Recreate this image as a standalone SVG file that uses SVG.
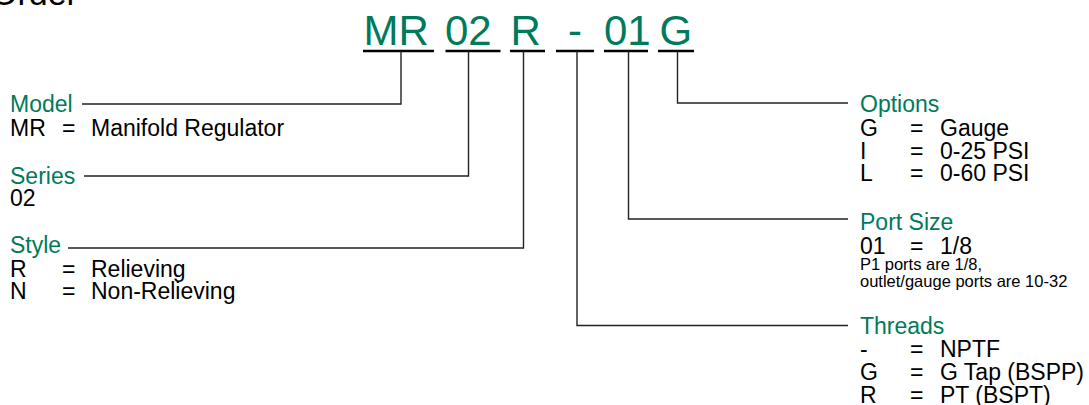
<svg xmlns="http://www.w3.org/2000/svg" width="1089" height="405" viewBox="0 0 1089 405">
<style>
text{font-family:"Liberation Sans",Arial,Helvetica,sans-serif;}
.code{font-size:42px;fill:#007a5a;}
.hd{font-size:23px;fill:#007a5a;}
.tx{font-size:23px;fill:#000;}
.sm{font-size:16.5px;fill:#000;}
.ul{stroke:#000;stroke-width:2.5;fill:none;}
.ln{stroke:#222;stroke-width:1.4;fill:none;}
</style>
<rect width="1089" height="405" fill="#fff"/>
<text x="-9" y="4.5" style="font-size:34px;fill:#000">Order</text>
<g id="code">
<text class="code" x="363.5" y="45">MR</text>
<text class="code" x="445" y="45">02</text>
<text class="code" x="510.5" y="45">R</text>
<text class="code" x="568" y="45">-</text>
<text class="code" x="604" y="45">01</text>
<text class="code" x="659.5" y="45">G</text>
<path class="ul" d="M363 51H434M445.5 51H500.5M510 51H545M556 51H594M604 51H648M658 51H694"/>
</g>
<g id="connectors">
<path class="ln" d="M401 51V104H82"/>
<path class="ln" d="M468.5 51V176H84"/>
<path class="ln" d="M523.5 51V248H68"/>
<path class="ln" d="M577 51V325.5H848"/>
<path class="ln" d="M628.5 51V219H848"/>
<path class="ln" d="M677.5 51V103H848"/>
</g>
<g id="model">
<text class="hd" x="10" y="112">Model</text>
<text class="tx" x="10" y="136">MR</text><text class="tx" x="62" y="136">=</text><text class="tx" x="91" y="136">Manifold Regulator</text>
</g>
<g id="series">
<text class="hd" x="10" y="183.5">Series</text>
<text class="tx" x="10" y="205.5">02</text>
</g>
<g id="style">
<text class="hd" x="10" y="253">Style</text>
<text class="tx" x="10" y="276.5">R</text><text class="tx" x="62" y="276.5">=</text><text class="tx" x="91" y="276.5">Relieving</text>
<text class="tx" x="10" y="299">N</text><text class="tx" x="62" y="299">=</text><text class="tx" x="91" y="299">Non-Relieving</text>
</g>
<g id="options">
<text class="hd" x="860" y="112">Options</text>
<text class="tx" x="860" y="136">G</text><text class="tx" x="910" y="136">=</text><text class="tx" x="940" y="136">Gauge</text>
<text class="tx" x="860" y="158.5">I</text><text class="tx" x="910" y="158.5">=</text><text class="tx" x="940" y="158.5">0-25 PSI</text>
<text class="tx" x="860" y="181">L</text><text class="tx" x="910" y="181">=</text><text class="tx" x="940" y="181">0-60 PSI</text>
</g>
<g id="portsize">
<text class="hd" x="860" y="229.5">Port Size</text>
<text class="tx" x="860" y="253.5">01</text><text class="tx" x="910" y="253.5">=</text><text class="tx" x="940" y="253.5">1/8</text>
<text class="sm" x="860" y="270">P1 ports are 1/8,</text>
<text class="sm" x="860" y="286.7">outlet/gauge ports are 10-32</text>
</g>
<g id="threads">
<text class="hd" x="860" y="333.5">Threads</text>
<text class="tx" x="860" y="357">-</text><text class="tx" x="910" y="357">=</text><text class="tx" x="940" y="357">NPTF</text>
<text class="tx" x="860" y="380">G</text><text class="tx" x="910" y="380">=</text><text class="tx" x="940" y="380">G Tap (BSPP)</text>
<text class="tx" x="860" y="403">R</text><text class="tx" x="910" y="403">=</text><text class="tx" x="940" y="403">PT (BSPT)</text>
</g>
</svg>
